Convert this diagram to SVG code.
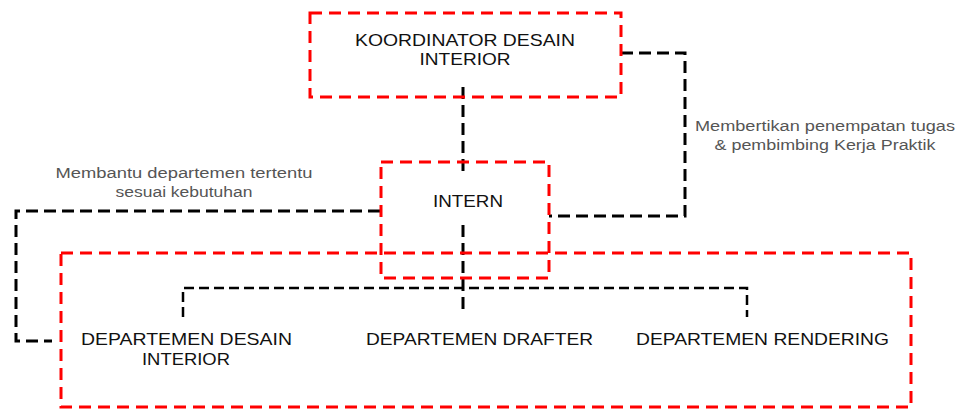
<svg xmlns="http://www.w3.org/2000/svg" width="958" height="410" viewBox="0 0 958 410">
<style>
.box{fill:none;stroke:#f00;stroke-width:3;stroke-dasharray:12,7}
.con{fill:none;stroke:#000;stroke-width:3;stroke-dasharray:12,6}
.br{fill:none;stroke:#000;stroke-width:2.5;stroke-dasharray:10,5}
.t{font-family:"Liberation Sans",Arial,sans-serif;font-size:17px;fill:#111;text-anchor:middle}
.d{font-family:"Liberation Sans",Arial,sans-serif;font-size:17px;fill:#111}
.lb{font-family:"Liberation Sans",Arial,sans-serif;font-size:14px;fill:#555;text-anchor:middle}
</style>
<rect width="958" height="410" fill="#fff"/>
<g id="connectors">
  <path class="con" d="M463 87 V173"/>
  <path class="con" d="M463 225 V313"/>
  <path class="con" d="M621 53 H685 V216 H549"/>
  <path class="con" d="M380 211 H16 V341 H52"/>
  <path class="br" d="M183 317 V288 H747 V317"/>
</g>
<g id="koordinator">
  <rect class="box" x="310" y="13" width="311" height="84"/>
  <text class="t" x="465" y="46" textLength="220" lengthAdjust="spacingAndGlyphs">KOORDINATOR DESAIN</text>
  <text class="t" x="465" y="65" textLength="91" lengthAdjust="spacingAndGlyphs">INTERIOR</text>
</g>
<g id="departemen">
  <rect class="box" x="61" y="253" width="850" height="154"/>
</g>
<g id="intern">
  <rect class="box" x="381" y="162" width="168" height="116"/>
  <text class="t" x="468" y="207" textLength="70" lengthAdjust="spacingAndGlyphs">INTERN</text>
</g>
<g id="dept-desain">
  <text class="d" x="81" y="345" textLength="211" lengthAdjust="spacingAndGlyphs">DEPARTEMEN DESAIN</text>
  <text class="t" x="186" y="365" textLength="88" lengthAdjust="spacingAndGlyphs">INTERIOR</text>
</g>
<g id="dept-drafter">
  <text class="d" x="366" y="345" textLength="227" lengthAdjust="spacingAndGlyphs">DEPARTEMEN DRAFTER</text>
</g>
<g id="dept-rendering">
  <text class="d" x="636" y="345" textLength="253" lengthAdjust="spacingAndGlyphs">DEPARTEMEN RENDERING</text>
</g>
<g id="labels">
  <text class="lb" x="184" y="178" textLength="257" lengthAdjust="spacingAndGlyphs">Membantu departemen tertentu</text>
  <text class="lb" x="184" y="197" textLength="137" lengthAdjust="spacingAndGlyphs">sesuai kebutuhan</text>
  <text class="lb" x="825" y="131" textLength="260" lengthAdjust="spacingAndGlyphs">Membertikan penempatan tugas</text>
  <text class="lb" x="825" y="150" textLength="221" lengthAdjust="spacingAndGlyphs">&amp; pembimbing Kerja Praktik</text>
</g>
</svg>
